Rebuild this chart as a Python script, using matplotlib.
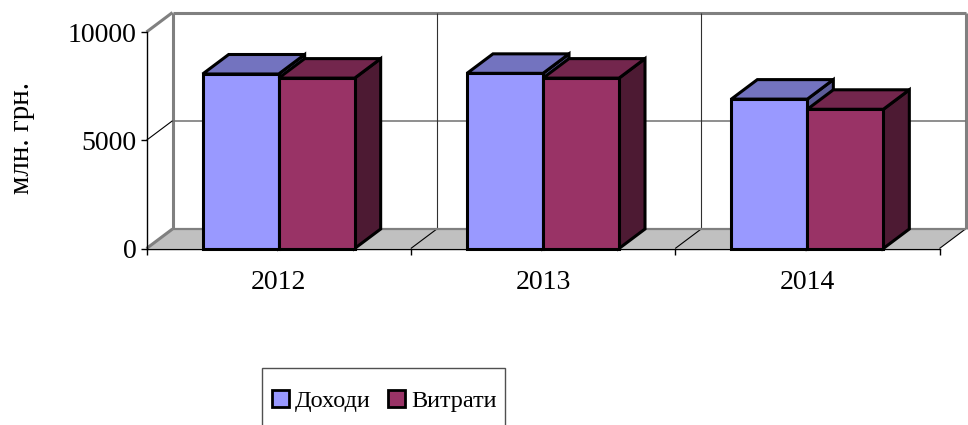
import matplotlib
matplotlib.use("Agg")
import matplotlib.pyplot as plt
from matplotlib.patches import Patch, Polygon, Rectangle

W, H = 968, 425
YEARS = ["2012", "2013", "2014"]
INCOME = [8060, 8090, 6900]
COSTS = [7870, 7870, 6430]
YTICKS = [0, 5000, 10000]
SERIES = ["Доходи", "Витрати"]
YLABEL = "млн. грн."

INCOME_COLORS = ("#9999ff", "#7373bf", "#5c5c99")
COSTS_COLORS = ("#993366", "#73264d", "#4d1a33")

plt.rcParams["font.family"] = ["Liberation Serif", "DejaVu Serif"]

fig = plt.figure(figsize=(W / 100, H / 100), dpi=100)
left, right, top, bottom = 146.5, 939.5, 32, 248.5
ax = fig.add_axes([left / W, 1 - bottom / H, (right - left) / W, (bottom - top) / H])
ax.set_xlim(0, 3)
ax.set_ylim(0, 10000)

# depth of the fake 3d box, in data units
dx = 26 / ((right - left) / 3)
dy = 19.5 / ((bottom - top) / 10000)
bar_w = 76 / ((right - left) / 3)


def poly(pts, color, z, edge="black", lw=2.2):
    ax.add_patch(Polygon(pts, closed=True, facecolor=color, edgecolor=edge, linewidth=lw,
                         joinstyle="miter", zorder=z, clip_on=False))


def line(xs, ys, color, lw, z=1):
    ax.plot(xs, ys, color=color, linewidth=lw, zorder=z, clip_on=False, solid_capstyle="butt")


def bar(x0, val, colors, z):
    x1 = x0 + bar_w
    poly([(x1, 0), (x1 + dx, dy), (x1 + dx, val + dy), (x1, val)], colors[2], z)
    poly([(x0, val), (x0 + dx, val + dy), (x1 + dx, val + dy), (x1, val)], colors[1], z)
    poly([(x0, 0), (x1, 0), (x1, val), (x0, val)], colors[0], z)


# floor
poly([(0, 0), (dx, dy), (3 + dx, dy), (3, 0)], "#c0c0c0", 1, edge="none", lw=0)
line([dx, 3 + dx], [dy, dy], "#808080", 1.6, 1.5)
line([0, dx], [0, dy], "#808080", 2.2, 1.5)

# back wall and gridlines
line([dx, dx], [dy, 10000 + dy], "#808080", 2.2)
line([dx, 3 + dx], [10000 + dy, 10000 + dy], "#808080", 2.2)
line([3 + dx, 3 + dx], [dy, 10000 + dy], "#808080", 2.2)
line([0, dx], [10000, 10000 + dy], "#808080", 2.2)
line([dx, 3 + dx], [5000 + dy, 5000 + dy], "#707070", 1.1)
line([0, dx], [5000, 5000 + dy], "black", 0.8)
for i in [1, 2]:
    line([i + dx, i + dx], [dy, 10000 + dy], "#303030", 0.8)
    line([i, i + dx], [0, dy], "black", 0.8)
line([3, 3 + dx], [0, dy], "black", 0.8)

# bars
for i in range(3):
    c = i + 0.5
    bar(c - bar_w, INCOME[i], INCOME_COLORS, 3 + i)
    bar(c, COSTS[i], COSTS_COLORS, 3.5 + i)

for s in ["top", "right"]:
    ax.spines[s].set_visible(False)
ax.spines["left"].set_linewidth(1.0)
ax.spines["bottom"].set_linewidth(1.0)
ax.patch.set_visible(False)

ax.set_xticks([0, 1, 2, 3])
ax.set_xticklabels([])
ax.set_xticks([0.5, 1.5, 2.5], labels=YEARS, minor=True)
ax.tick_params(axis="x", which="major", length=4, width=1, direction="out")
ax.tick_params(axis="x", which="minor", length=0, pad=15.5, labelsize=20)
ax.set_yticks(YTICKS)
ax.tick_params(axis="y", length=4.3, width=1, pad=3, labelsize=20)

fig.text(22 / W, 1 - 138 / H, YLABEL, rotation=90, ha="center", va="center", fontsize=21)

# legend frame runs past the bottom edge of the picture, like the original
fig.add_artist(Rectangle((262 / W, 1 - 431 / H), 243 / W, 63 / H, transform=fig.transFigure,
                         facecolor="white", edgecolor="#505050", linewidth=1.0))
handles = [Patch(facecolor=INCOME_COLORS[0], edgecolor="black", linewidth=2),
           Patch(facecolor=COSTS_COLORS[0], edgecolor="black", linewidth=2)]
leg = fig.legend(handles, SERIES, loc="upper left", bbox_to_anchor=(272 / W, 1 - 390 / H),
                 ncol=2, fontsize=17.5, frameon=False, borderaxespad=0, borderpad=0,
                 handlelength=0.7, handleheight=0.7, handletextpad=0.25, columnspacing=0.7)

fig.savefig("out.png", dpi=100)
